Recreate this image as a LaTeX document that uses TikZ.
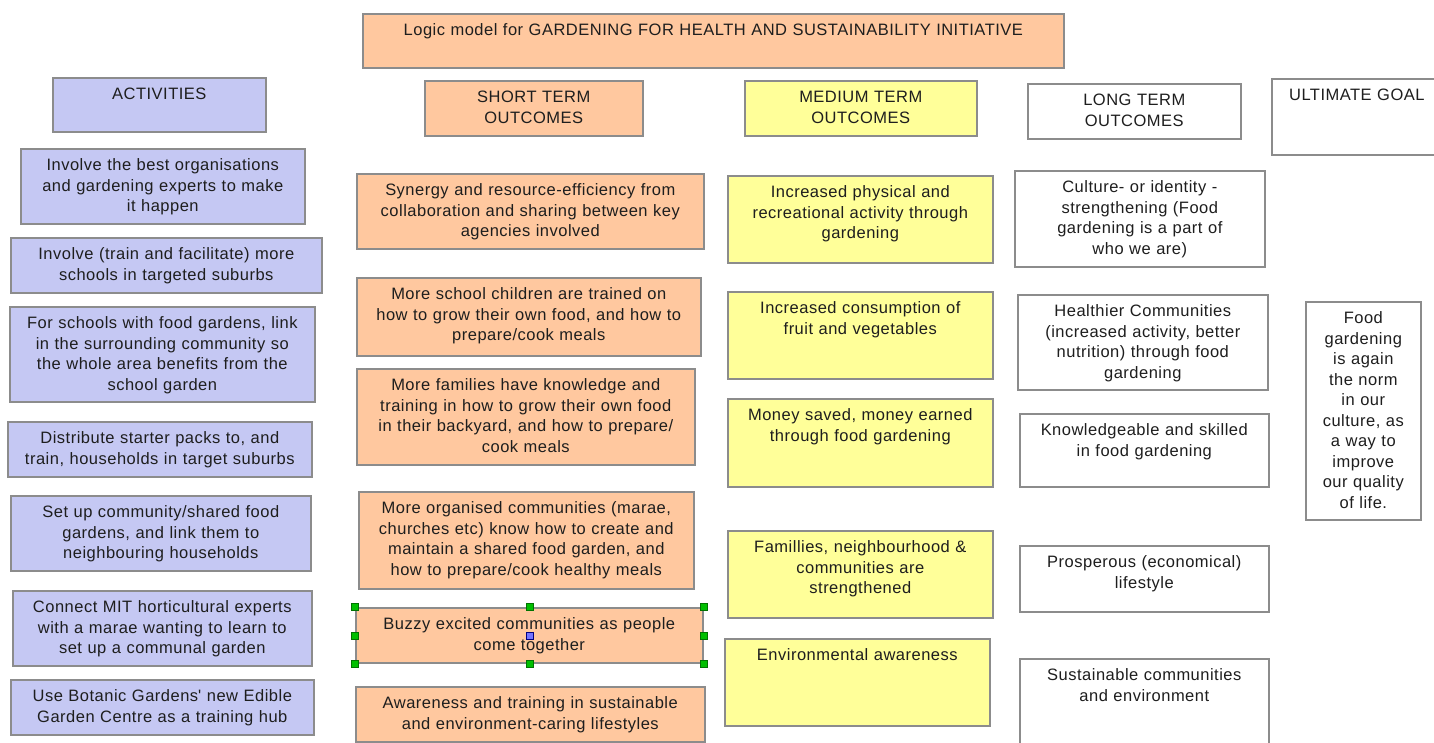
\documentclass[tikz,border=0pt]{standalone}
\usepackage{fontspec}
\setmainfont{Liberation Sans}[LetterSpace=3.0]
\definecolor{actfill}{HTML}{C5C8F3}
\definecolor{shortfill}{HTML}{FFC89F}
\definecolor{medfill}{HTML}{FFFF99}
\definecolor{rimgray}{HTML}{8C8C8C}
\definecolor{inkgray}{HTML}{1E1E1E}
\tikzset{
  cell/.style 2 args={draw=rimgray, line width=1.6pt, inner sep=0pt, anchor=north west,
    align=center, text width=#1, text height=22pt, text depth=#2, text=inkgray,
    font=\fontsize{16.5}{20.5}\selectfont},
  actbox/.style={fill=actfill},
  shortbox/.style={fill=shortfill},
  medbox/.style={fill=medfill},
  longbox/.style={fill=white},
  handle/.style={draw=green!45!black, fill=green!75!black, line width=0.6pt}
}
\begin{document}
\begin{tikzpicture}[x=1pt, y=-1pt]
  \useasboundingbox (0,0) rectangle (1434,742);
  % title and column heads
  \node[cell={701pt}{32pt}, shortbox] (title) at (362,13)
    {Logic model for GARDENING FOR HEALTH AND SUSTAINABILITY INITIATIVE};
  \node[cell={213pt}{32pt}, actbox] (acthead) at (52,77) {ACTIVITIES};
  \node[cell={218pt}{33pt}, shortbox] (shorthead) at (424,80) {SHORT TERM\\OUTCOMES};
  \node[cell={232pt}{33pt}, medbox] (medhead) at (744,80) {MEDIUM TERM\\OUTCOMES};
  \node[cell={213pt}{33pt}, longbox] (longhead) at (1027,83) {LONG TERM\\OUTCOMES};
  \node[cell={170pt}{54pt}, longbox] (goalhead) at (1271,78) {ULTIMATE GOAL};
  % activities
  \node[cell={284pt}{53pt}, actbox] (a1) at (20,148)
    {Involve the best organisations\\and gardening experts to make\\it happen};
  \node[cell={311pt}{33pt}, actbox] (a2) at (10,237)
    {Involve (train and facilitate) more\\schools in targeted suburbs};
  \node[cell={305pt}{73pt}, actbox] (a3) at (9,306)
    {For schools with food gardens, link\\in the surrounding community so\\the whole area benefits from the\\school garden};
  \node[cell={304pt}{33pt}, actbox] (a4) at (7,421)
    {Distribute starter packs to, and\\train, households in target suburbs};
  \node[cell={300pt}{53pt}, actbox] (a5) at (10,495)
    {Set up community/shared food\\gardens, and link them to\\neighbouring households};
  \node[cell={299pt}{53pt}, actbox] (a6) at (12,590)
    {Connect MIT horticultural experts\\with a marae wanting to learn to\\set up a communal garden};
  \node[cell={303pt}{33pt}, actbox] (a7) at (10,679)
    {Use Botanic Gardens\textquotesingle\ new Edible\\Garden Centre as a training hub};
  % short term outcomes
  \node[cell={347pt}{53pt}, shortbox] (s1) at (356,173)
    {Synergy and resource-efficiency from\\collaboration and sharing between key\\agencies involved};
  \node[cell={344pt}{56pt}, shortbox] (s2) at (356,277)
    {More school children are trained on\\how to grow their own food, and how to\\prepare/cook meals};
  \node[cell={338pt}{74pt}, shortbox] (s3) at (356,368)
    {More families have knowledge and\\training in how to grow their own food\\in their backyard, and how to prepare/\\cook meals};
  \node[cell={335pt}{75pt}, shortbox] (s4) at (358,491)
    {More organised communities (marae,\\churches etc) know how to create and\\maintain a shared food garden, and\\how to prepare/cook healthy meals};
  \node[cell={347pt}{33pt}, shortbox] (s5) at (355,607)
    {Buzzy excited communities as people\\come together};
  \node[cell={349pt}{33pt}, shortbox] (s6) at (355,686)
    {Awareness and training in sustainable\\and environment-caring lifestyles};
  % medium term outcomes
  \node[cell={265pt}{65pt}, medbox] (m1) at (727,175)
    {Increased physical and\\recreational activity through\\gardening};
  \node[cell={265pt}{65pt}, medbox] (m2) at (727,291)
    {Increased consumption of\\fruit and vegetables};
  \node[cell={265pt}{66pt}, medbox] (m3) at (727,398)
    {Money saved, money earned\\through food gardening};
  \node[cell={265pt}{65pt}, medbox] (m4) at (727,530)
    {Famillies, neighbourhood \&\\communities are\\strengthened};
  \node[cell={265pt}{65pt}, medbox] (m5) at (724,638)
    {Environmental awareness};
  % long term outcomes
  \node[cell={250pt}{74pt}, longbox] (l1) at (1014,170)
    {Culture- or identity -\\strengthening (Food\\gardening is a part of\\who we are)};
  \node[cell={250pt}{73pt}, longbox] (l2) at (1017,294)
    {Healthier Communities\\(increased activity, better\\nutrition) through food\\gardening};
  \node[cell={249pt}{51pt}, longbox] (l3) at (1019,413)
    {Knowledgeable and skilled\\in food gardening};
  \node[cell={249pt}{44pt}, longbox] (l4) at (1019,545)
    {Prosperous (economical)\\lifestyle};
  \node[cell={249pt}{68pt}, longbox] (l5) at (1019,658)
    {Sustainable communities\\and environment};
  % ultimate goal
  \node[cell={115pt}{196pt}, longbox] (goal) at (1305,301)
    {Food\\gardening\\is again\\the norm\\in our\\culture, as\\a way to\\improve\\our quality\\of life.};
  % selection handles
  \foreach \a in {north west,north,north east,east,south east,south,south west,west}
    \draw[handle] (s5.\a) +(-3.5,-3.5) rectangle +(3.5,3.5);
  \draw[handle, draw=blue!50!black, fill=blue!55] (s5.center) +(-3.5,-3.5) rectangle +(3.5,3.5);
\end{tikzpicture}
\end{document}
